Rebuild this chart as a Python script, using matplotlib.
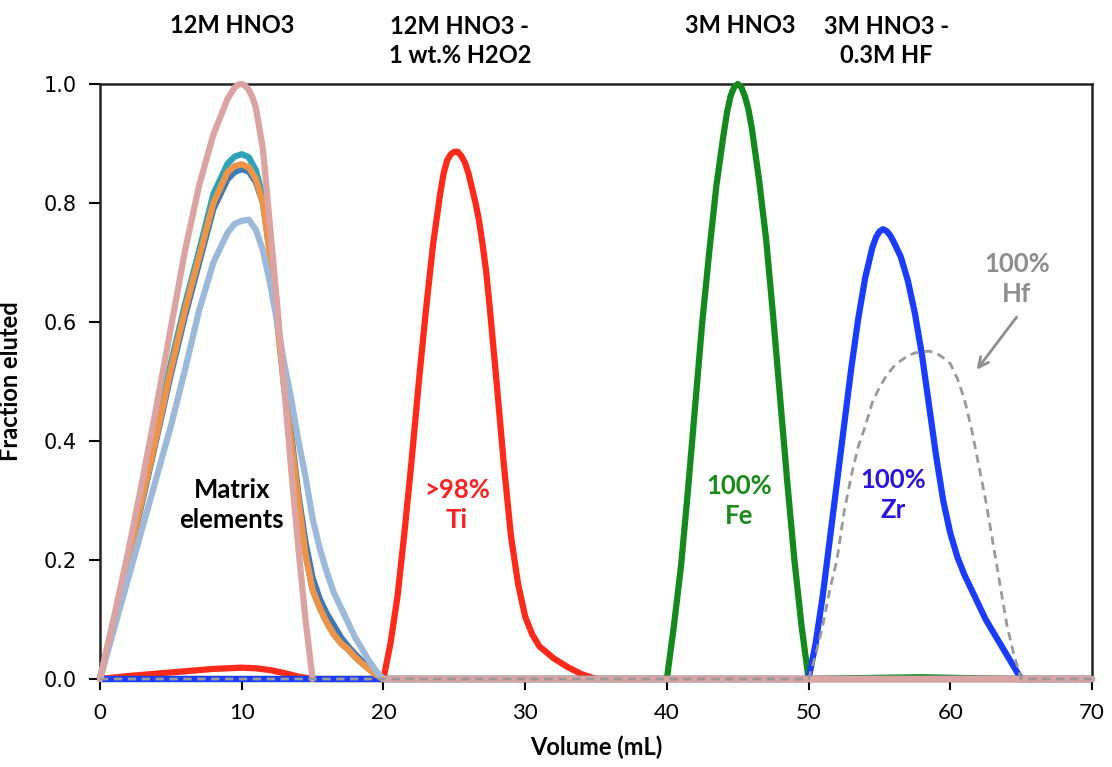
import numpy as np
import matplotlib
matplotlib.use("Agg")
import matplotlib.pyplot as plt

nan = np.nan

# matrix elements (12M HNO3)
vol_matrix = [0, 1, 2, 3, 4, 5, 6, 7, 8, 9, 9.5, 10, 10.5, 11, 11.5, 12, 12.5, 13, 13.5, 14,
              14.5, 15, 15.5, 16, 16.5, 17, 17.5, 18, 18.5, 19, 19.5, 20, 70]
teal = [0, 0.10, 0.205, 0.31, 0.42, 0.53, 0.63, 0.72, 0.815, 0.866, 0.878, 0.882, 0.877, 0.855, 0.81,
        0.72, 0.605, 0.49, 0.40, 0.30, 0.21, 0.15, 0.12, 0.095, 0.075, 0.06, 0.05, 0.037, 0.026,
        0.016, 0.007, 0, 0]
steel = [0, 0.098, 0.197, 0.30, 0.405, 0.512, 0.61, 0.70, 0.79, 0.84, 0.852, 0.857, 0.853, 0.835, 0.80,
         0.715, 0.61, 0.50, 0.41, 0.31, 0.23, 0.17, 0.135, 0.11, 0.09, 0.07, 0.055, 0.042, 0.03,
         0.018, 0.008, 0, 0]
orange = [0, 0.10, 0.20, 0.305, 0.41, 0.52, 0.62, 0.71, 0.80, 0.852, 0.862, 0.865, 0.86, 0.84, 0.80,
          0.71, 0.60, 0.49, 0.40, 0.30, 0.21, 0.15, 0.12, 0.095, 0.075, 0.06, 0.05, 0.037, 0.026,
          0.016, 0.007, 0, 0]
lightblue = [0, 0.085, 0.17, 0.255, 0.34, 0.425, 0.52, 0.62, 0.70, 0.75, 0.765, 0.77, 0.772, 0.755, 0.72,
             0.665, 0.60, 0.53, 0.47, 0.40, 0.34, 0.27, 0.22, 0.18, 0.145, 0.12, 0.095, 0.07, 0.05,
             0.03, 0.013, 0, 0]
vol_pink = [0, 1, 2, 3, 4, 5, 6, 7, 8, 9, 9.5, 9.75, 10, 10.25, 10.5, 10.75, 11, 11.5, 12, 12.5,
            13, 13.5, 14, 14.5, 15, 17.5, 20, 70]
pink = [0, 0.105, 0.215, 0.335, 0.46, 0.59, 0.72, 0.83, 0.915, 0.975, 0.994, 0.999, 1.0, 0.997, 0.99,
        0.978, 0.96, 0.89, 0.76, 0.63, 0.49, 0.35, 0.22, 0.10, 0.0, nan, 0, 0]

# Ti (12M HNO3 - H2O2)
vol_ti = [0, 2, 4, 6, 8, 10, 11, 12, 13, 14, 15, 20, 20.5, 21, 21.5, 22, 22.5, 23, 23.5, 24, 24.25,
          24.5, 24.75, 25, 25.25, 25.5, 25.75, 26, 26.5, 26.75, 27, 27.25, 27.5, 28, 28.5, 29, 29.5,
          30, 30.5, 31, 32, 33, 34, 35, 70]
ti = [0, 0.005, 0.009, 0.013, 0.017, 0.019, 0.018, 0.015, 0.01, 0.004, 0, 0, 0.06, 0.14, 0.25, 0.37,
      0.50, 0.62, 0.73, 0.815, 0.85, 0.872, 0.882, 0.886, 0.886, 0.879, 0.868, 0.85, 0.80, 0.77,
      0.73, 0.685, 0.625, 0.495, 0.36, 0.24, 0.16, 0.105, 0.075, 0.055, 0.035, 0.02, 0.008, 0, 0]

# Fe (3M HNO3)
vol_fe = [0, 40, 40.5, 41, 41.5, 42, 42.5, 43, 43.5, 44, 44.25, 44.5, 44.75, 45, 45.25, 45.5, 45.75,
          46, 46.5, 47, 47.5, 48, 48.5, 49, 49.5, 50, 55, 58, 62, 65, 70]
fe = [0, 0, 0.09, 0.19, 0.32, 0.46, 0.60, 0.72, 0.83, 0.915, 0.953, 0.98, 0.995, 1.0, 0.995, 0.98,
      0.958, 0.925, 0.84, 0.74, 0.61, 0.47, 0.33, 0.20, 0.09, 0, 0.002, 0.003, 0.001, 0, 0]

# Zr and Hf (3M HNO3 - 0.3M HF)
vol_zr = [0, 50, 50.5, 51, 51.5, 52, 52.5, 53, 53.5, 54, 54.5, 54.75, 55, 55.25, 55.5, 55.75, 56,
          56.5, 57, 57.5, 58, 58.5, 59, 59.5, 60, 60.5, 61, 61.5, 62, 62.5, 63, 63.5, 64, 64.5, 65, 70]
zr = [0, 0, 0.06, 0.14, 0.235, 0.33, 0.425, 0.52, 0.605, 0.675, 0.725, 0.742, 0.752, 0.756, 0.753,
      0.746, 0.735, 0.71, 0.67, 0.615, 0.545, 0.46, 0.375, 0.30, 0.245, 0.205, 0.175, 0.15, 0.125,
      0.10, 0.08, 0.06, 0.04, 0.02, 0, 0]
vol_hf = [0, 50, 50.5, 51, 51.5, 52, 52.5, 53, 53.5, 54, 54.5, 55, 55.5, 56, 56.5, 57, 57.5, 58,
          58.5, 59, 59.5, 60, 60.5, 61, 61.5, 62, 62.5, 63, 63.5, 64, 64.5, 65, 70]
hf = [0, 0, 0.04, 0.09, 0.15, 0.20, 0.28, 0.34, 0.39, 0.425, 0.465, 0.49, 0.51, 0.525, 0.535, 0.543,
      0.548, 0.55, 0.551, 0.548, 0.54, 0.53, 0.505, 0.47, 0.42, 0.36, 0.30, 0.23, 0.16, 0.09, 0.04,
      0, 0]

xticks = [0, 10, 20, 30, 40, 50, 60, 70]
yticks = [0.0, 0.2, 0.4, 0.6, 0.8, 1.0]

fig = plt.figure(figsize=(11.12, 7.67), dpi=100)
ax = fig.add_axes([100 / 1112, 88 / 767, 992 / 1112, 595 / 767])

lw = 4.5
kw = dict(lw=lw, clip_on=False, solid_joinstyle="round", solid_capstyle="round")
ax.plot(vol_ti, ti, color="#ff2a1a", zorder=2, **kw)
ax.plot(vol_fe, fe, color="#148a1e", zorder=3, **kw)
ax.plot(vol_zr, zr, color="#1a3cff", zorder=4, **kw)
ax.plot(vol_matrix, teal, color="#2ea3b8", zorder=5, **kw)
ax.plot(vol_matrix, steel, color="#3d7ab3", zorder=6, **kw)
ax.plot(vol_matrix, orange, color="#ef9447", zorder=7, **kw)
ax.plot(vol_matrix, lightblue, color="#9db9da", zorder=8, **kw)
ax.plot(vol_pink, pink, color="#dba3a1", zorder=9, **kw)
ax.plot(vol_hf, hf, color="#999999", lw=2, ls=(0, (3, 2)), clip_on=False, zorder=10)

ax.set_xlim(0, 70)
ax.set_ylim(0, 1)
ax.set_xticks(xticks)
ax.set_yticks(yticks)
ax.set_xticklabels([str(t) for t in xticks], fontfamily="Lato", fontsize=16)
ax.set_yticklabels(["%.1f" % t for t in yticks], fontfamily="DejaVu Sans", fontsize=15)
ax.tick_params(axis="x", direction="out", length=8, width=1.5, pad=9, colors="black")
ax.tick_params(axis="y", direction="out", length=8, width=1.5, pad=9, colors="black")
for s in ax.spines.values():
    s.set_linewidth(1.8)
    s.set_color("#222222")

ax.set_xlabel("Volume (mL)", fontfamily="Lato", fontweight="bold", fontsize=17, va="center")
ax.set_ylabel("Fraction eluted", fontfamily="Lato", fontweight="bold", fontsize=17)
ax.xaxis.set_label_coords(0.5, -0.114)
ax.yaxis.set_label_coords(-0.079, 0.5)

tkw = dict(fontfamily="Lato", fontweight="bold", ha="center", va="center", linespacing=1.3)
ax.text(9.3, 0.293, "Matrix\nelements", color="black", fontsize=18.5, **tkw)
ax.text(25.2, 0.292, ">98%\nTi", color="#ff2020", fontsize=18.5, **tkw)
ax.text(45.1, 0.30, "100%\nFe", color="#1a8a1a", fontsize=18.5, **tkw)
ax.text(56.0, 0.309, "100%\nZr", color="#2a14e0", fontsize=18.5, **tkw)
ax.text(64.7, 0.672, "100%\nHf", color="#8e8e8e", fontsize=18.5, **tkw)
ax.annotate("", xy=(61.75, 0.516), xytext=(64.8, 0.612),
            arrowprops=dict(arrowstyle="->,head_length=0.7,head_width=0.35", color="#8e8e8e", lw=2))

ax.text(9.3, 1.099, "12M HNO3", color="black", fontsize=17, **tkw)
ax.text(25.4, 1.072, "12M HNO3 -\n1 wt.% H2O2", color="black", fontsize=17, **tkw)
ax.text(45.2, 1.099, "3M HNO3", color="black", fontsize=17, **tkw)
ax.text(55.5, 1.072, "3M HNO3 -\n0.3M HF", color="black", fontsize=17, **tkw)

fig.savefig("out.png", dpi=100)
